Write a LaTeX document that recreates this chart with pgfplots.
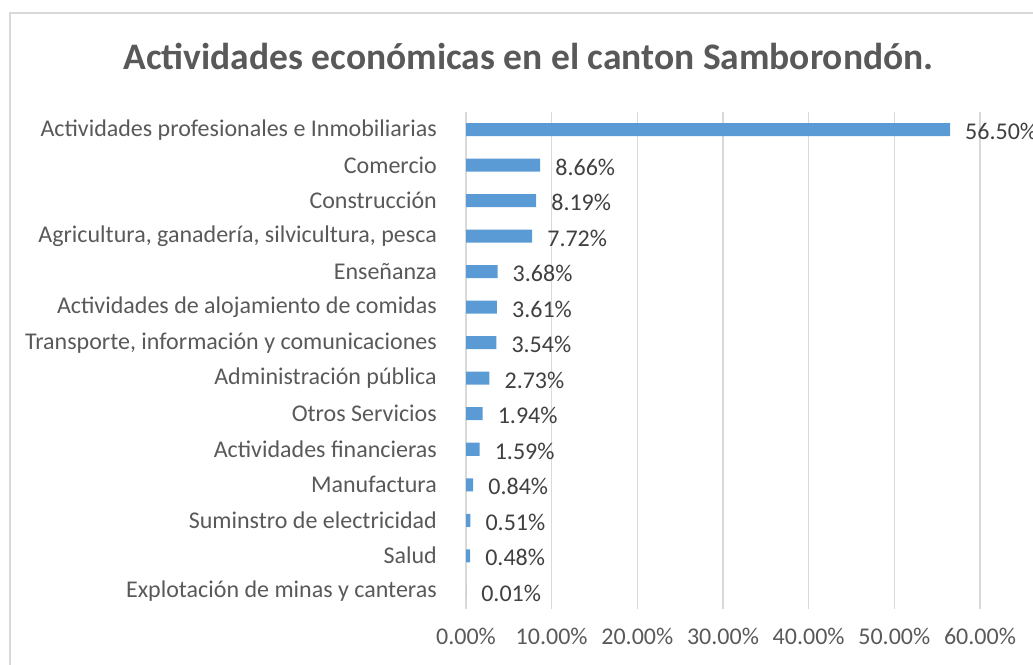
\documentclass[border=0pt]{standalone}
\usepackage{pgfplots}
\pgfplotsset{compat=1.18}
\usepackage{fontspec}
\setmainfont{Carlito}
\definecolor{barblue}{HTML}{5B9BD5}
\definecolor{gridgray}{HTML}{D9D9D9}
\definecolor{txtgray}{HTML}{595959}
\definecolor{valgray}{HTML}{404040}
\begin{document}
\begin{tikzpicture}[x=1pt,y=1pt]
\useasboundingbox (0,0) rectangle (1033,664);
\draw[gridgray, line width=1.5pt] (10,651) rectangle (1060,-20);
\node[anchor=base, font=\fontsize{37.5}{44}\selectfont\bfseries, text=txtgray, inner sep=0pt] at (528.5,594) {Actividades económicas en el canton Samborondón.};
\begin{axis}[at={(466pt,55pt)}, anchor=south west, width=514pt, height=497pt, scale only axis,
  xbar, bar width=13pt, xmin=0, xmax=60, ymin=-0.5, ymax=13.5,
  /pgf/number format/assume math mode=true,
  ytick={0,...,13},
  yticklabels={Explotación de minas y canteras, Salud, Suminstro de electricidad, Manufactura, Actividades financieras, Otros Servicios, Administración pública, {Transporte, información y comunicaciones}, Actividades de alojamiento de comidas, Enseñanza, {Agricultura, ganadería, silvicultura, pesca}, Construcción, Comercio, Actividades profesionales e Inmobiliarias},
  xtick={0,10,...,60},
  xticklabel={\pgfmathprintnumber[fixed,fixed zerofill,precision=2]{\tick}\%},
  xmajorgrids, major grid style={gridgray, line width=1.5pt},
  axis line style={draw=none}, major tick length=0pt,
  yticklabel style={font=\fontsize{24}{28}\selectfont, text=txtgray, inner sep=0pt, xshift=-29pt},
  xticklabel style={font=\fontsize{24}{28}\selectfont, text=txtgray, inner sep=0pt, yshift=-19pt},
  nodes near coords={\pgfmathprintnumber[fixed,fixed zerofill,precision=2]{\pgfplotspointmeta}\%},
  point meta=x,
  nodes near coords style={anchor=west, inner sep=0pt, xshift=15pt, yshift=-2pt, font=\fontsize{24}{28}\selectfont, text=valgray},
  clip=false,
]
\addplot[fill=barblue, draw=none] coordinates {
(0.01,0) (0.48,1) (0.51,2) (0.84,3) (1.59,4) (1.94,5) (2.73,6) (3.54,7) (3.61,8) (3.68,9) (7.72,10) (8.19,11) (8.66,12) (56.50,13)
};
\end{axis}
\end{tikzpicture}
\end{document}
